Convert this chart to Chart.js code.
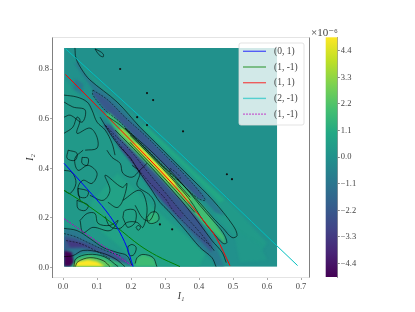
<!DOCTYPE html>
<html><head><meta charset="utf-8">
<style>html,body{margin:0;padding:0;background:#fff}canvas{position:absolute;top:0}#main{left:0}#cb{left:310px}</style>
<script src="https://cdn.jsdelivr.net/npm/chart.js@4"></script></head>
<body><canvas id="main" width="415" height="312"></canvas><canvas id="cb" width="105" height="312"></canvas>
<script>
// ---------- tick labels and legend ----------
const xTicks=[0,0.1,0.2,0.3,0.4,0.5,0.6,0.7];
const yTicks=[0,0.2,0.4,0.6,0.8];
const cbTicks=[-4.4,-3.3,-2.2,-1.1,0,1.1,2.2,3.3,4.4];
const xTitle="I₁", yTitle="I₂", cbOffset="×10⁻⁶";
const lineLabels=["(0, 1)","(1, -1)","(1, 1)","(2, -1)","(1, -1)"];
const lineColors=["#0000ff","#008000","#ff0000","#00bfbf","#bf00bf"];
// ---------- curves (I1, I2) ----------
const curve01=[[.003,.42],[.07,.318],[.129,.224],[.159,.162],[.188,.081],[.206,.004]];
const curve1m1=[[.003,.311],[.05,.271],[.114,.21],[.159,.162],[.226,.089],[.275,.048],[.344,.004]];
const curve11=[[.007,.778],[.035,.74],[.129,.61],[.285,.392],[.344,.304],[.408,.198],[.452,.117],[.491,.008]];
const curve2m1=[[.007,.882],[.334,.473],[.628,.089],[.69,.008]];
const curve1m1b=[[.003,.197],[.06,.143],[.129,.077],[.202,.008]];
// ---------- colour field: value level (×10⁻⁶) and the region at that level ----------
const fieldExtent=[0.003,0.63,0.003,0.885], fieldBase=0;
const regionLevels=[0.35,0.75,0.4,1.0,0.3,-1,-0.9,-2.2,-0.9,-2.3,-2.9,1.9,3.3,5,1.8,1.5,-1,-2.2,-3.3,-4.96,1.5,2.6,4.96];
const regionShapes=[
[[.003,.76],[.109,.606],[.168,.485],[.221,.392],[.285,.263],[.353,.162],[.45,.004],[.003,.004]],
[[.16,.38],[.3,.2],[.42,.06],[.40,.004],[.2,.004],[.18,.07],[.1,.16],[.08,.26]],
[[.03,.85],[.182,.645],[.344,.451],[.506,.241],[.6,.1],[.58,.06],[.535,.081],[.462,.182],[.344,.392],[.226,.554],[.109,.715],[.035,.828]],
[[.241,.576],[.374,.402],[.476,.273],[.462,.261],[.344,.422],[.232,.56]],
[[.5,.16],[.58,.09],[.6,.03],[.52,.02]],
[[.038,.844],[.056,.796],[.079,.756],[.159,.667],[.226,.566],[.271,.505],[.315,.444],[.374,.364],[.441,.271],[.476,.21],[.447,.222],[.388,.311],[.315,.4],[.226,.513],[.138,.634],[.079,.735],[.038,.816]],
[[.035,.76],[.06,.74],[.055,.7],[.03,.72]],
[[.088,.715],[.132,.675],[.182,.606],[.241,.533],[.3,.453],[.359,.372],[.403,.303],[.418,.271],[.397,.279],[.344,.344],[.285,.424],[.226,.505],[.168,.586],[.124,.634],[.088,.695]],
[[.109,.606],[.138,.541],[.168,.485],[.197,.444],[.221,.392],[.256,.323],[.285,.263],[.309,.23],[.353,.162],[.403,.081],[.438,.04],[.45,.004],[.475,.004],[.44,.117],[.39,.198],[.325,.304],[.265,.392],[.236,.432],[.188,.5],[.125,.59]],
[[.118,.574],[.174,.473],[.212,.412],[.256,.323],[.321,.23],[.365,.162],[.412,.097],[.438,.061],[.438,.097],[.412,.162],[.388,.23],[.329,.319],[.271,.392],[.229,.453],[.182,.525],[.138,.574]],
[[.162,.493],[.212,.404],[.256,.331],[.3,.259],[.344,.198],[.356,.21],[.309,.291],[.262,.364],[.224,.432],[.185,.485]],
[[.124,.622],[.168,.525],[.226,.444],[.279,.372],[.315,.319],[.374,.234],[.412,.178],[.447,.137],[.479,.093],[.474,.125],[.447,.182],[.418,.238],[.374,.303],[.315,.384],[.256,.461],[.197,.541],[.138,.622]],
[[.162,.554],[.203,.493],[.256,.42],[.315,.335],[.368,.259],[.376,.275],[.321,.352],[.268,.428],[.215,.505],[.176,.562]],
[[.203,.501],[.256,.428],[.309,.352],[.332,.323],[.329,.343],[.274,.42],[.218,.497]],
[[.212,.016],[.218,.04],[.235,.053],[.265,.04],[.276,.004],[.212,.004]],
[[.247,.202],[.259,.222],[.276,.222],[.282,.194],[.265,.178],[.25,.182]],
[[.003,.158],[.041,.149],[.079,.117],[.118,.081],[.159,.061],[.188,.048],[.203,.008],[.138,.008],[.109,.061],[.059,.061],[.029,.048],[.003,.04]],
[[.003,.129],[.035,.121],[.079,.097],[.124,.069],[.168,.044],[.191,.02],[.153,.02],[.109,.061],[.059,.077],[.021,.077],[.003,.069]],
[[.009,.113],[.05,.101],[.085,.081],[.109,.069],[.065,.085],[.021,.081]],
[[.003,.069],[.026,.061],[.032,.02],[.021,.004],[.003,.004]],
[[.029,.004],[.038,.04],[.074,.057],[.124,.044],[.168,.02],[.191,.004]],
[[.029,.004],[.044,.032],[.079,.044],[.118,.032],[.153,.004]],
[[.032,.004],[.044,.024],[.074,.032],[.1,.024],[.124,.004]]
];
// ---------- contour lines ----------
const solidContours=[
[[.035,.885],[.038,.844],[.056,.796],[.079,.756],[.159,.667],[.226,.566],[.271,.505],[.315,.444],[.374,.364],[.441,.271],[.5,.17],[.512,.129],[.497,.121],[.471,.158],[.441,.2],[.403,.26],[.344,.345],[.285,.42],[.226,.5],[.168,.574],[.129,.61]],
[[.182,.562],[.256,.473],[.315,.392],[.374,.3],[.403,.25],[.441,.19],[.471,.14],[.482,.101],[.471,.097],[.441,.141],[.412,.19],[.374,.271],[.324,.352],[.256,.453],[.197,.533]],
[[.109,.606],[.138,.541],[.168,.485],[.197,.444],[.221,.392],[.256,.323],[.285,.263],[.309,.23],[.353,.162],[.403,.081],[.438,.04],[.45,.004]],
[[.153,.554],[.226,.453],[.3,.343],[.359,.251],[.403,.174],[.438,.109],[.468,.061],[.48,.02]],
[[.197,.505],[.271,.4],[.344,.291],[.388,.222]],
[[.182,.562],[.256,.461],[.329,.352],[.374,.283]],
[[.003,.158],[.041,.149],[.079,.117],[.118,.081],[.159,.061],[.188,.048],[.203,.008]],
[[.003,.044],[.029,.048],[.059,.069],[.109,.061],[.153,.036],[.182,.004]],
[[.032,.004],[.038,.036],[.074,.053],[.121,.044],[.162,.004]],
[[.036,.004],[.044,.024],[.079,.04],[.118,.028],[.138,.004]],
[[.191,.085],[.203,.093],[.215,.081],[.209,.053],[.197,.048],[.191,.065],[.191,.085]],
[[.212,.016],[.218,.04],[.235,.053],[.265,.04],[.276,.004]],
[[.247,.202],[.259,.222],[.276,.222],[.282,.194],[.265,.178],[.25,.182],[.247,.202]],
[[.215,.162],[.221,.17],[.228,.162],[.221,.15],[.215,.162]],
[[.094,.881],[.106,.873],[.118,.861],[.118,.849],[.106,.857],[.094,.881]],
[[.003,.695],[.041,.687],[.071,.667],[.085,.635],[.1,.586],[.124,.554],[.144,.501],[.153,.453]],
[[.003,.667],[.029,.647],[.065,.635],[.056,.586],[.021,.614],[.003,.606]],
[[.003,.541],[.029,.566],[.041,.606],[.05,.594],[.041,.541],[.079,.562],[.1,.525],[.1,.481],[.065,.473]],
[[.059,.473],[.035,.44],[.044,.392],[.074,.412],[.1,.38],[.085,.339],[.059,.352],[.044,.323],[.05,.271]],
[[.129,.473],[.144,.444],[.168,.42],[.176,.38],[.203,.364],[.226,.392],[.247,.42]],
[[.132,.263],[.159,.242],[.176,.271],[.188,.339],[.174,.323],[.124,.372],[.138,.311],[.118,.271],[.079,.291]],
[[.176,.271],[.226,.311],[.247,.242],[.235,.162],[.218,.182],[.188,.182],[.168,.158],[.138,.166],[.124,.206]],
[[.015,.473],[.041,.461],[.035,.432],[.012,.44],[.015,.473]],
[[.056,.444],[.074,.44],[.071,.412],[.056,.42],[.056,.444]],
[[.003,.392],[.026,.384],[.038,.34],[.021,.299],[.003,.311]],
[[.044,.319],[.074,.307],[.068,.283],[.047,.287],[.044,.319]],
[[.041,.271],[.074,.251],[.065,.23],[.044,.238],[.041,.271]],
[[.203,.412],[.226,.384],[.218,.331],[.256,.291],[.271,.251],[.256,.19],[.235,.198],[.212,.251]],
[[.05,.19],[.071,.218],[.094,.218],[.103,.178],[.138,.17],[.162,.19],[.138,.149],[.088,.162],[.059,.141],[.05,.19]],
[[.176,.202],[.182,.23],[.212,.23],[.212,.182],[.191,.162],[.182,.182],[.176,.202]]
];
const dashedContours=[
[[.124,.574],[.174,.481],[.212,.412],[.256,.34],[.3,.279],[.324,.23],[.374,.158],[.438,.081],[.444,.069],[.403,.141],[.35,.222],[.3,.303],[.25,.384],[.197,.473],[.144,.545],[.124,.574]],
[[.088,.715],[.132,.675],[.182,.606],[.241,.533],[.3,.453],[.359,.372],[.403,.303],[.418,.271],[.397,.279],[.344,.344],[.285,.424],[.226,.505],[.168,.586],[.124,.634],[.088,.695],[.088,.715]],
[[.315,.4],[.335,.38],[.345,.36],[.33,.355],[.315,.38],[.315,.4]],
[[.003,.137],[.035,.125],[.079,.097],[.124,.069],[.168,.048]],
[[.009,.109],[.05,.097],[.094,.069],[.138,.036]]
];
const contourDots=[[.168,.8],[.247,.703],[.265,.675],[.247,.574],[.218,.606],[.353,.549],[.482,.376],[.497,.356],[.285,.174],[.321,.154]];
// ---------- colour map ----------
const viridis=["#440154","#482475","#414487","#355f8d","#2a788e","#21918c","#22a884","#44bf70","#7ad151","#bddf26","#fde725"];
const cbRange=[-4.96,4.96];
function hex(c){return [1,3,5].map(i=>parseInt(c.substr(i,2),16));}
function levelColor(v){
  let t=(v-cbRange[0])/(cbRange[1]-cbRange[0]); t=Math.max(0,Math.min(1,t))*(viridis.length-1);
  const i=Math.min(viridis.length-2,Math.floor(t)),f=t-i,a=hex(viridis[i]),b=hex(viridis[i+1]);
  return `rgb(${a.map((q,k)=>Math.round(q+(b[k]-q)*f)).join(",")})`;
}
const pts=a=>a.map(p=>({x:p[0],y:p[1]}));
const serif='"Liberation Serif","DejaVu Serif",serif';

const fieldPlugin={id:"field",beforeDatasetsDraw(chart){
  const {ctx,scales:{x,y}}=chart;
  const X0=x.getPixelForValue(fieldExtent[0]),X1=x.getPixelForValue(fieldExtent[1]),Y0=y.getPixelForValue(fieldExtent[3]),Y1=y.getPixelForValue(fieldExtent[2]);
  ctx.save();ctx.beginPath();ctx.rect(X0,Y0,X1-X0,Y1-Y0);ctx.clip();
  ctx.fillStyle=levelColor(fieldBase);ctx.fillRect(X0,Y0,X1-X0,Y1-Y0);
  ctx.filter="blur(1.1px)";
  regionShapes.forEach((s,i)=>{
    ctx.fillStyle=levelColor(regionLevels[i]);ctx.beginPath();
    s.forEach((p,k)=>{const a=x.getPixelForValue(p[0]),b=y.getPixelForValue(p[1]);k?ctx.lineTo(a,b):ctx.moveTo(a,b);});
    ctx.closePath();ctx.fill();
  });
  ctx.restore();
}};
const framePlugin={id:"frame",afterDraw(chart){
  const {ctx,chartArea:a}=chart;ctx.save();ctx.lineWidth=1;
  ctx.strokeStyle="#e4e4e4";ctx.beginPath();ctx.moveTo(a.left,a.top);ctx.lineTo(a.right,a.top);ctx.stroke();
  ctx.strokeStyle="#808080";ctx.beginPath();ctx.moveTo(a.right,a.top);ctx.lineTo(a.right,a.bottom);ctx.stroke();
  // legend
  const L=239,T=43,W=65,H=82;
  ctx.fillStyle="rgba(255,255,255,0.8)";ctx.strokeStyle="#dcdcdc";ctx.lineWidth=.8;
  ctx.beginPath();ctx.roundRect(L,T,W,H,2);ctx.fill();ctx.stroke();
  ctx.font=`9.5px ${serif}`;ctx.textBaseline="middle";ctx.textAlign="left";
  lineLabels.forEach((t,i)=>{
    const yy=T+8.3+15.7*i;
    ctx.globalAlpha=.6;ctx.strokeStyle=lineColors[i];ctx.lineWidth=1.4;ctx.setLineDash(i==4?[2,1]:[]);
    ctx.beginPath();ctx.moveTo(L+4,yy);ctx.lineTo(L+27,yy);ctx.stroke();
    ctx.globalAlpha=1;ctx.setLineDash([]);ctx.fillStyle="#444";ctx.fillText(t,L+35,yy);
  });
  ctx.restore();
}};
const curves=[curve01,curve1m1,curve11,curve2m1,curve1m1b];
const datasets=curves.map((c,i)=>({label:lineLabels[i],data:pts(c),showLine:true,pointRadius:0,borderColor:lineColors[i],borderWidth:1,cubicInterpolationMode:"monotone",tension:.3,borderDash:i==4?[2,1.2]:[],clip:false}));
solidContours.forEach(c=>datasets.push({label:"contour",data:pts(c),showLine:true,pointRadius:0,borderColor:"rgba(0,0,0,.8)",borderWidth:.75,tension:.35}));
dashedContours.forEach(c=>datasets.push({label:"contour",data:pts(c),showLine:true,pointRadius:0,borderColor:"rgba(0,0,0,.7)",borderWidth:.7,borderDash:[2,1.3],tension:.35}));
datasets.push({label:"contour",data:pts(contourDots),showLine:false,pointRadius:1.1,pointBorderWidth:0,pointBackgroundColor:"#111"});

const tickFont={family:serif,size:8.5};
new Chart(document.getElementById("main"),{type:"scatter",data:{datasets},plugins:[fieldPlugin,framePlugin],options:{
  responsive:false,animation:false,layout:{padding:{top:37.5,right:105.5,left:25,bottom:10}},
  plugins:{legend:{display:false},tooltip:{enabled:false}},
  scales:{
    x:{min:-0.031,max:0.725,afterBuildTicks:s=>{s.ticks=xTicks.map(v=>({value:v}));},afterFit:s=>{s.height=24.5;},
      grid:{drawOnChartArea:false,tickLength:2.5,color:"#aaa"},border:{color:"#e4e4e4"},
      ticks:{font:tickFont,color:"#444",padding:2,maxRotation:0,autoSkip:false,callback:v=>(+v).toFixed(1)},
      title:{display:true,text:xTitle,font:{family:serif,size:9.5,style:"italic"},color:"#333",padding:{top:1,bottom:0}}},
    y:{min:-0.04,max:0.927,afterBuildTicks:s=>{s.ticks=yTicks.map(v=>({value:v}));},afterFit:s=>{s.width=27.5;},
      grid:{drawOnChartArea:false,tickLength:2.5,color:"#aaa"},border:{color:"#808080"},
      ticks:{font:tickFont,color:"#444",padding:1,autoSkip:false,callback:v=>(+v).toFixed(1)},
      title:{display:true,text:yTitle,font:{family:serif,size:9.5,style:"italic"},color:"#333",padding:{top:0,bottom:0}}}
  }}});

const barPlugin={id:"bar",beforeDatasetsDraw(chart){
  const {ctx,chartArea:a,scales:{y}}=chart;
  const g=ctx.createLinearGradient(0,y.getPixelForValue(cbRange[0]),0,y.getPixelForValue(cbRange[1]));
  viridis.forEach((c,i)=>g.addColorStop(i/(viridis.length-1),c));
  ctx.fillStyle=g;ctx.fillRect(a.left,a.top,a.right-a.left,a.bottom-a.top);
},afterDraw(chart){
  const {ctx,chartArea:a}=chart;ctx.save();ctx.font=`11px ${serif}`;ctx.fillStyle="#444";ctx.textAlign="right";ctx.textBaseline="alphabetic";
  ctx.fillText(cbOffset,a.right+0.5,a.top-1.5);ctx.restore();
}};
new Chart(document.getElementById("cb"),{type:"scatter",data:{datasets:[{data:[]}]},plugins:[barPlugin],options:{
  responsive:false,animation:false,layout:{padding:{top:37.3,left:15.7,bottom:35}},
  plugins:{legend:{display:false},tooltip:{enabled:false}},
  scales:{x:{display:false},
    y:{position:"right",min:cbRange[0],max:cbRange[1],afterBuildTicks:s=>{s.ticks=cbTicks.map(v=>({value:v}));},afterFit:s=>{s.width=77.7;},
      grid:{drawOnChartArea:false,tickLength:2.5,color:"#888"},border:{color:"#999"},
      ticks:{font:tickFont,color:"#444",padding:1,autoSkip:false,callback:v=>(+v===0?"0.0":(v<0?"−":"")+Math.abs(v).toFixed(1))}}
  }}});
</script></body></html>
